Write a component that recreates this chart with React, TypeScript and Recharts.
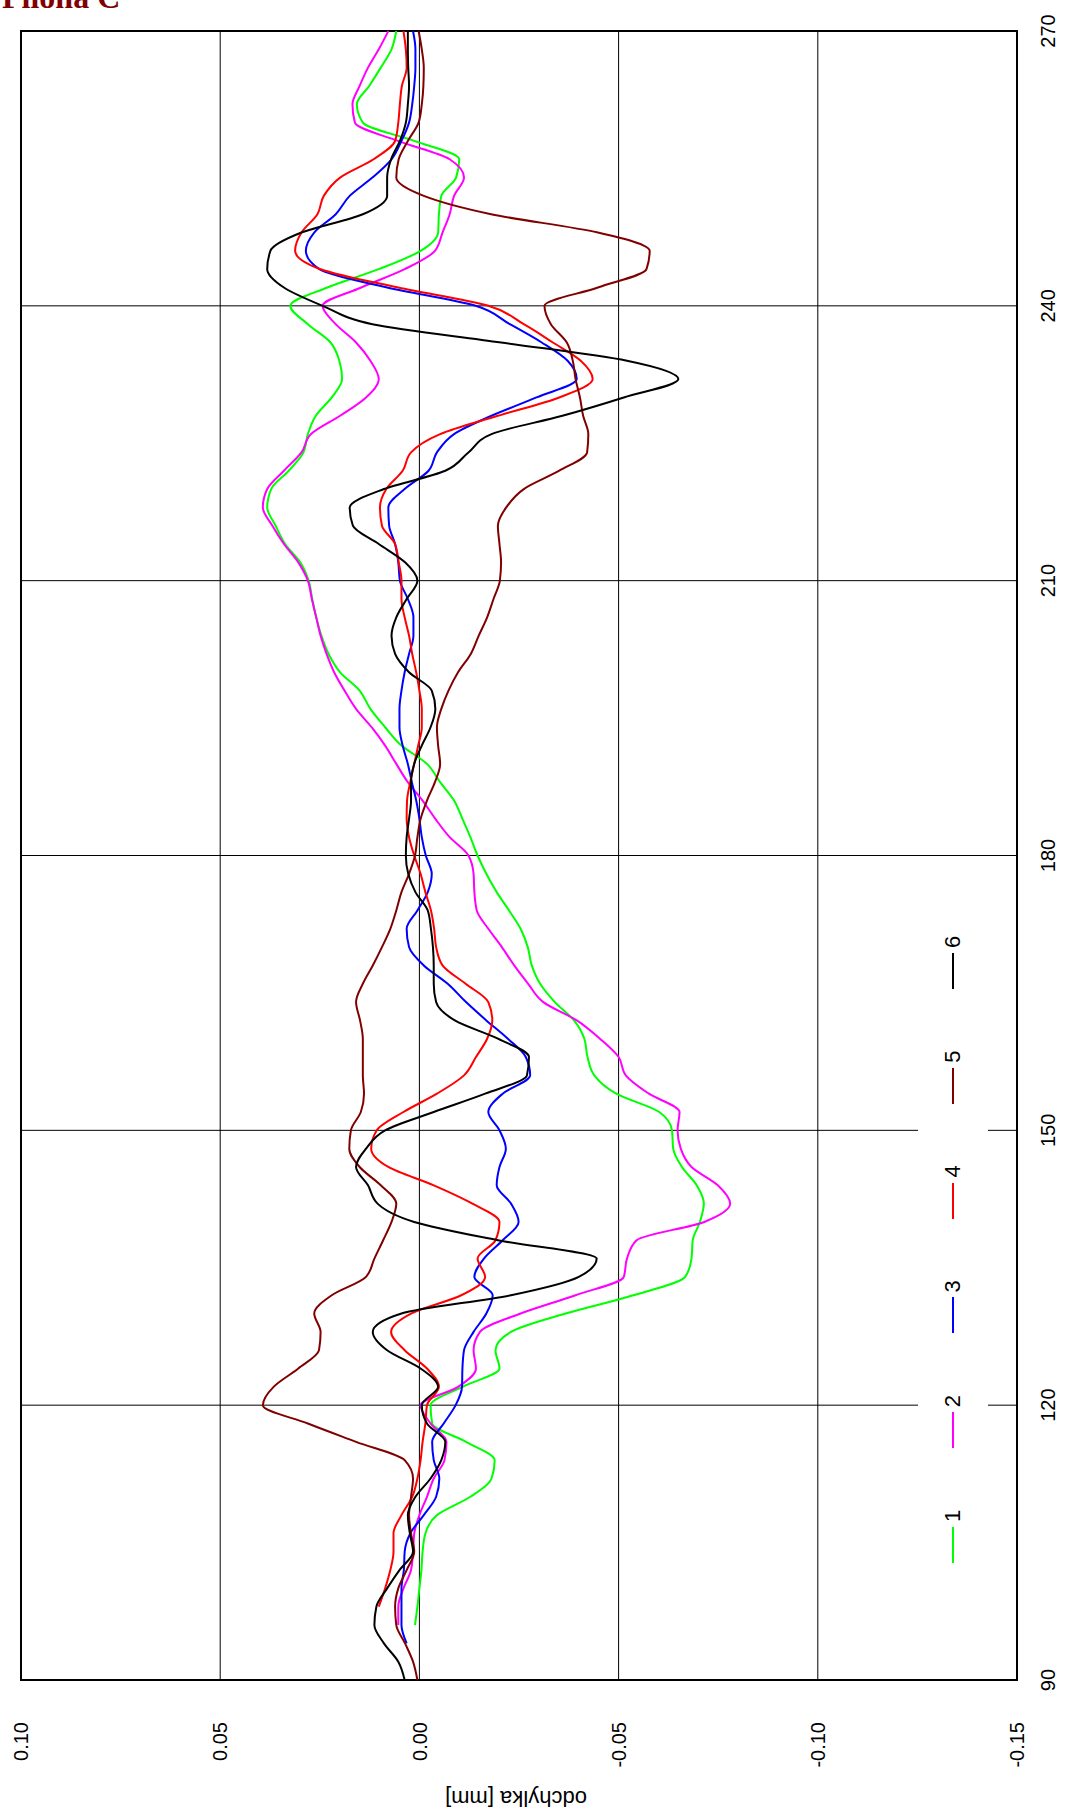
import { LineChart, Line, XAxis, YAxis, CartesianGrid, ReferenceArea } from 'recharts'

// angle in degrees, bottom (90) to top (270) of the page
const DEG = [
  90, 92, 94, 96, 98, 100, 102, 104, 106, 108,
  110, 112, 114, 116, 118, 120, 122, 124, 126, 128,
  130, 132, 134, 136, 138, 140, 142, 144, 146, 148,
  150, 152, 154, 156, 158, 160, 162, 164, 166, 168,
  170, 172, 174, 176, 178, 180, 182, 184, 186, 188,
  190, 192, 194, 196, 198, 200, 202, 204, 206, 208,
  210, 212, 214, 216, 218, 220, 222, 224, 226, 228,
  230, 232, 234, 236, 238, 240, 242, 244, 246, 248,
  250, 252, 254, 256, 258, 260, 262, 264, 266, 268,
  270,
]

const S1 = [
  null, null, null, 0.0011, 0.0005, 0, -0.0005, -0.0008, -0.0015, -0.0044,
  -0.0128, -0.0181, -0.0189, -0.0117, -0.0032, -0.0028, -0.0108, -0.0201, -0.0191, -0.023,
  -0.0367, -0.0537, -0.0667, -0.0683, -0.0686, -0.0704, -0.0714, -0.0696, -0.0659, -0.0637,
  -0.0634, -0.0602, -0.0494, -0.0439, -0.0422, -0.0414, -0.0388, -0.034, -0.0303, -0.0282,
  -0.0272, -0.0254, -0.0225, -0.0194, -0.0168, -0.0146, -0.0128, -0.0108, -0.0087, -0.0052,
  -0.0019, 0.0045, 0.0086, 0.0123, 0.015, 0.0199, 0.0228, 0.0246, 0.0259, 0.0269,
  0.0278, 0.0299, 0.0337, 0.0361, 0.0382, 0.0372, 0.0328, 0.0291, 0.028, 0.026,
  0.022, 0.0194, 0.0201, 0.0223, 0.028, 0.0324, 0.0231, 0.0102, -0.0003, -0.0047,
  -0.0049, -0.0055, -0.0092, -0.01, 0.0013, 0.0142, 0.0157, 0.0126, 0.0097, 0.007,
  0.0058,
]

const S2 = [
  null, null, null, 0.0053, 0.0053, 0.004, 0.0021, 0.0016, 0.0013, 0,
  -0.0019, -0.0036, -0.0063, -0.0068, -0.0028, -0.0003, -0.0097, -0.0142, -0.0136, -0.0152,
  -0.0254, -0.0392, -0.0513, -0.0521, -0.0545, -0.0715, -0.078, -0.0749, -0.0683, -0.0656,
  -0.0648, -0.0653, -0.0576, -0.0518, -0.05, -0.0453, -0.0395, -0.0311, -0.0273, -0.0238,
  -0.0207, -0.0173, -0.0144, -0.0138, -0.0136, -0.0123, -0.0076, -0.004, -0.0008, 0.0029,
  0.0058, 0.0086, 0.012, 0.0159, 0.0188, 0.0214, 0.0233, 0.0248, 0.0259, 0.027,
  0.028, 0.0304, 0.034, 0.0369, 0.0393, 0.0382, 0.034, 0.0296, 0.0272, 0.0199,
  0.0134, 0.0102, 0.0123, 0.0159, 0.021, 0.0243, 0.0146, 0.0037, -0.0039, -0.0058,
  -0.0076, -0.0087, -0.0112, -0.0076, 0.0054, 0.0162, 0.0168, 0.015, 0.0129, 0.0102,
  0.0078,
]

const S3 = [
  null, null, 0.0032, 0.0045, 0.0045, 0.0045, 0.0039, 0.0037, 0.0023, -0.0011,
  -0.0042, -0.005, -0.0036, -0.0032, -0.0061, -0.0091, -0.0107, -0.0108, -0.0112, -0.0136,
  -0.0168, -0.0184, -0.0138, -0.0162, -0.0209, -0.0249, -0.023, -0.0194, -0.0201, -0.0217,
  -0.0201, -0.0173, -0.0209, -0.0278, -0.0267, -0.0222, -0.0168, -0.0117, -0.0071, -0.0011,
  0.0026, 0.0032, 0.0005, -0.0021, -0.0031, -0.0016, -0.0006, 0, 0.0008, 0.0019,
  0.0029, 0.0042, 0.005, 0.005, 0.0045, 0.0037, 0.0026, 0.0015, 0.0015, 0.0029,
  0.0049, 0.0053, 0.0061, 0.0076, 0.0078, 0.0037, -0.0023, -0.0044, -0.0087, -0.0181,
  -0.0294, -0.0395, -0.0372, -0.0307, -0.0227, -0.0141, 0.0081, 0.0251, 0.0285, 0.0264,
  0.021, 0.0175, 0.0118, 0.007, 0.0045, 0.0026, 0.0018, 0.0013, 0.001, 0.001,
  0.0016,
]

const S4 = [
  null, null, null, null, 0.0102, 0.0086, 0.0073, 0.0065, 0.0065, 0.0045,
  0.0018, 0.0005, -0.0003, -0.0008, -0.0015, -0.0019, -0.0049, -0.0019, 0.0037, 0.0071,
  0.0021, -0.0105, -0.0165, -0.0146, -0.0191, -0.0201, -0.0133, -0.0036, 0.0078, 0.0121,
  0.0107, 0.004, -0.0044, -0.0112, -0.0142, -0.017, -0.0183, -0.0173, -0.0116, -0.0058,
  -0.0042, -0.0037, -0.0029, -0.0015, -0.0003, 0.0013, 0.0026, 0.0032, 0.0031, 0.0023,
  0.0013, 0.0003, -0.0006, -0.0006, 0, 0.0008, 0.0018, 0.0026, 0.0037, 0.0045,
  0.0045, 0.0052, 0.0061, 0.0094, 0.0099, 0.0083, 0.0042, 0.0021, -0.0052, -0.0197,
  -0.0351, -0.0435, -0.0405, -0.0335, -0.0262, -0.0173, 0.0053, 0.0248, 0.0312, 0.0296,
  0.0256, 0.024, 0.0199, 0.0115, 0.0061, 0.0053, 0.0049, 0.0044, 0.0032, 0.0034,
  0.004,
]

const S5 = [
  0.0005, 0.0016, 0.0036, 0.0058, 0.0061, 0.0053, 0.0032, 0.0013, 0.0021, 0.0026,
  0.0021, 0.0016, 0.0037, 0.0159, 0.028, 0.0393, 0.0366, 0.0304, 0.0252, 0.0248,
  0.0264, 0.022, 0.0134, 0.0113, 0.0091, 0.007, 0.0058, 0.0097, 0.015, 0.0176,
  0.0172, 0.0147, 0.0139, 0.0142, 0.0142, 0.0142, 0.0149, 0.0159, 0.0142, 0.0117,
  0.0094, 0.0073, 0.0058, 0.0045, 0.0026, 0.0011, 0.0005, -0.0003, -0.0019, -0.0039,
  -0.0052, -0.0047, -0.0044, -0.0055, -0.0073, -0.0097, -0.0129, -0.0149, -0.017, -0.0186,
  -0.0202, -0.0205, -0.0201, -0.0197, -0.0218, -0.0262, -0.0351, -0.0421, -0.0424, -0.0411,
  -0.0403, -0.0392, -0.0385, -0.037, -0.033, -0.0314, -0.0448, -0.057, -0.0578, -0.0448,
  -0.018, -0.0011, 0.0058, 0.0052, 0.0029, 0.0002, -0.0006, -0.001, -0.0011, -0.0006,
  0.0002,
]

const S6 = [
  0.0037, 0.0053, 0.0089, 0.0113, 0.0108, 0.0081, 0.005, 0.0016, 0.0024, 0.0029,
  0.001, -0.0028, -0.0055, -0.0065, -0.0019, -0.0006, -0.0047, -0.0003, 0.0081, 0.0117,
  0.0045, -0.023, -0.04, -0.0445, -0.0197, 0.0013, 0.0105, 0.0129, 0.0159, 0.0134,
  0.0086, -0.0036, -0.0165, -0.027, -0.0275, -0.0197, -0.0089, -0.0042, -0.0036, -0.0036,
  -0.0034, -0.0029, -0.0021, 0.001, 0.0028, 0.0034, 0.0032, 0.0026, 0.0021, 0.0021,
  0.0013, -0.0006, -0.0028, -0.004, -0.0031, 0.0026, 0.0061, 0.007, 0.0058, 0.0032,
  0.0005, 0.0036, 0.0102, 0.0167, 0.0175, 0.0089, -0.0065, -0.0123, -0.0181, -0.0359,
  -0.0513, -0.065, -0.0521, -0.0205, 0.0118, 0.0243, 0.034, 0.0382, 0.0374, 0.0296,
  0.0142, 0.0081, 0.0081, 0.0071, 0.0049, 0.0034, 0.0029, 0.0026, 0.0028, 0.0029,
  0.0029,
]

const SERIES = [
  { key: 's1', name: '1', color: '#00ff00', values: S1 },
  { key: 's2', name: '2', color: '#ff00ff', values: S2 },
  { key: 's3', name: '3', color: '#0000ff', values: S3 },
  { key: 's4', name: '4', color: '#ff0000', values: S4 },
  { key: 's5', name: '5', color: '#800000', values: S5 },
  { key: 's6', name: '6', color: '#000000', values: S6 },
]

const X_TICKS = [90, 120, 150, 180, 210, 240, 270]
const Y_TICKS = [-0.15, -0.1, -0.05, 0, 0.05, 0.1]

const TITLE = 'Pilona C'
const Y_TITLE = 'odchylka [mm]'

// chart is drawn landscape and turned a quarter turn to stand on the page
const W = 1811
const H = 1066
const FONT = "Arial, 'Liberation Sans', sans-serif"

const data = DEG.map((deg, i) => {
  const row: Record<string, number | null> = { deg }
  SERIES.forEach((s) => {
    row[s.key] = s.values[i]
  })
  return row
})

function Tick(props: any) {
  const { x, y, payload, textAnchor, dy, fmt } = props
  return (
    <text x={x} y={y} dy={dy} textAnchor={textAnchor} fontFamily={FONT} fontSize={20} fill="#000">
      {fmt(payload.value)}
    </text>
  )
}

export default function App() {
  return (
    <div style={{ position: 'fixed', left: 0, top: 0, width: 1066, height: 1811, overflow: 'hidden', background: '#fff' }}>
      <div
        style={{
          position: 'absolute',
          left: 0,
          top: 0,
          width: W,
          height: H,
          transformOrigin: '0 0',
          transform: `translateY(${W}px) rotate(-90deg)`,
        }}
      >
        <LineChart width={W} height={H} data={data} margin={{ top: 21, right: 31, bottom: 0, left: 51 }}>
          <CartesianGrid stroke="#000" strokeWidth={1} />
          <XAxis
            dataKey="deg"
            type="number"
            domain={[90, 270]}
            ticks={X_TICKS}
            interval={0}
            height={49}
            axisLine={false}
            tickLine={false}
            tickSize={0}
            tickMargin={24}
            tick={(p: any) => <Tick {...p} dy={14.2} fmt={(v: number) => String(v)} />}
          />
          <YAxis
            type="number"
            domain={[-0.15, 0.1]}
            ticks={Y_TICKS}
            interval={0}
            width={80}
            axisLine={false}
            tickLine={false}
            tickSize={0}
            tickMargin={42}
            allowDataOverflow
            tick={(p: any) => <Tick {...p} dy={7.1} fmt={(v: number) => v.toFixed(2)} />}
          />
          <ReferenceArea
            x1={90}
            x2={270}
            y1={-0.15}
            y2={0.1}
            fill="none"
            fillOpacity={0}
            stroke="#000"
            strokeWidth={2}
            strokeOpacity={1}
            ifOverflow="visible"
          />
          {SERIES.map((s) => (
            <Line
              key={s.key}
              dataKey={s.key}
              name={s.name}
              type="monotone"
              stroke={s.color}
              strokeWidth={2}
              dot={false}
              activeDot={false}
              connectNulls={false}
              isAnimationActive={false}
            />
          ))}
        </LineChart>

        <svg width={W} height={H} style={{ position: 'absolute', left: 0, top: 0, pointerEvents: 'none' }}>
          <text
            x={20}
            y={516}
            transform="rotate(-90, 20, 516)"
            textAnchor="middle"
            fontFamily={FONT}
            fontSize={22}
            fill="#000"
          >
            {Y_TITLE}
          </text>
        </svg>

        <div
          style={{
            position: 'absolute',
            left: 236,
            top: 918,
            width: 645,
            height: 70,
            background: '#fff',
            display: 'flex',
            alignItems: 'center',
            paddingLeft: 12,
            boxSizing: 'border-box',
          }}
        >
          {SERIES.map((s) => (
            <div key={s.key} style={{ width: 114.8, flex: 'none', display: 'flex', alignItems: 'center' }}>
              <div style={{ width: 36, height: 2, background: s.color, marginRight: 5 }} />
              <span style={{ fontFamily: FONT, fontSize: 22, lineHeight: '22px', color: '#000' }}>{s.name}</span>
            </div>
          ))}
        </div>
      </div>

      <svg width={300} height={40} style={{ position: 'absolute', left: 0, top: 0 }}>
        <text x={2} y={8} fontFamily="'Times New Roman', 'Liberation Serif', serif" fontWeight="bold" fontSize={32} fill="#800000">
          {TITLE}
        </text>
      </svg>
    </div>
  )
}
